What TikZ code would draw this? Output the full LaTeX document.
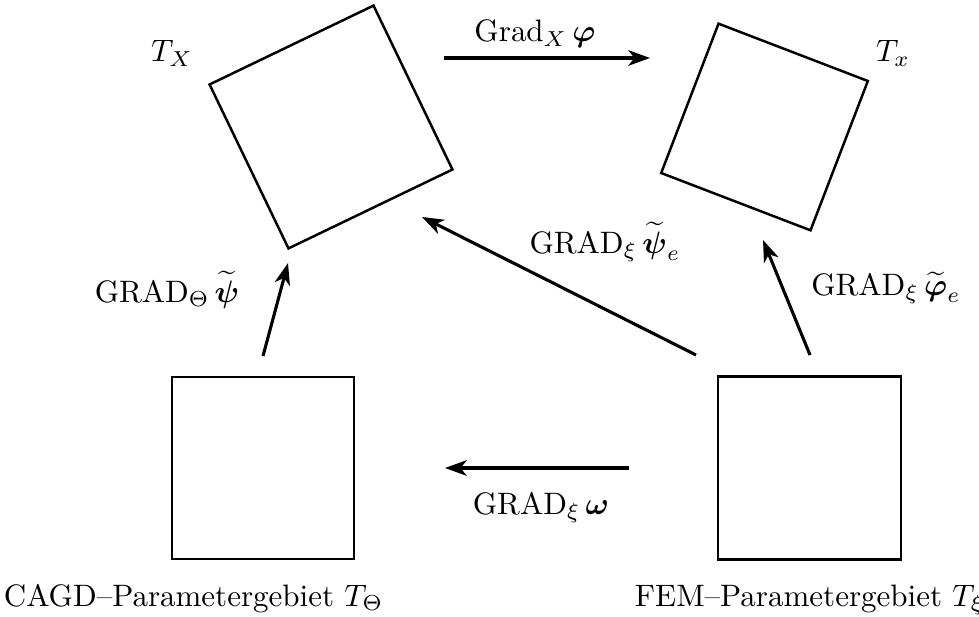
\documentclass[tikz,border=0pt]{standalone}
\usepackage{amsmath}
\usetikzlibrary{arrows.meta}
\tikzset{
  gebiet/.style={draw, thick, rectangle, minimum width=#1, minimum height=#1, inner sep=0pt},
  abb/.style={line width=1pt, -{Stealth[length=7pt, width=5pt, inset=2pt]}},
}
\begin{document}
\begin{tikzpicture}[x=1.1338cm, y=1.1338cm]
  \useasboundingbox (0,0) rectangle (9.79,6.16);
  % Gebiete
  \node[gebiet=58.7pt, rotate=25.7] (TX) at (3.31,4.89) {};
  \node[gebiet=51.6pt, rotate=-21] (Tx) at (7.645,4.89) {};
  \node[gebiet=58.7pt] (TTheta) at (2.63,1.48) {};
  \node[gebiet=59pt] (Txi) at (8.095,1.48) {};
  \node[anchor=base] (lTX) at (1.72,5.54) {$T_X$};
  \node[anchor=base] (lTx) at (8.93,5.54) {$T_x$};
  \node[anchor=base west] (lTTheta) at (-0.07,0.10) {CAGD--Parametergebiet $T_\Theta$};
  \node[anchor=base] (lTxi) at (8.095,0.10) {FEM--Parametergebiet $T_\xi$};
  % Abbildungen
  \coordinate (gX0) at (4.44,5.58);  \coordinate (gX1) at (6.50,5.58);
  \coordinate (gT0) at (2.63,2.60);  \coordinate (gT1) at (2.88,3.53);
  \coordinate (gP0) at (6.96,2.61);  \coordinate (gP1) at (4.22,3.99);
  \coordinate (gF0) at (8.10,2.61);  \coordinate (gF1) at (7.63,3.76);
  \coordinate (gW0) at (6.29,1.48);  \coordinate (gW1) at (4.45,1.48);
  \draw[abb] (gX0) -- (gX1);
  \draw[abb] (gT0) -- (gT1);
  \draw[abb] (gP0) -- (gP1);
  \draw[abb] (gF0) -- (gF1);
  \draw[abb] (gW0) -- (gW1);
  \node[anchor=base] (lGX) at (5.35,5.74) {$\mathrm{Grad}_X\,\boldsymbol{\varphi}$};
  \node[anchor=base] (lGT) at (1.67,3.14) {$\mathrm{GRAD}_\Theta\,\widetilde{\boldsymbol{\psi}}$};
  \node[anchor=base] (lGP) at (6.05,3.63) {$\mathrm{GRAD}_\xi\,\widetilde{\boldsymbol{\psi}}_e$};
  \node[anchor=base] (lGF) at (8.86,3.21) {$\mathrm{GRAD}_\xi\,\widetilde{\boldsymbol{\varphi}}_e$};
  \node[anchor=base] (lGW) at (5.41,1.02) {$\mathrm{GRAD}_\xi\,\boldsymbol{\omega}$};
\end{tikzpicture}
\end{document}
